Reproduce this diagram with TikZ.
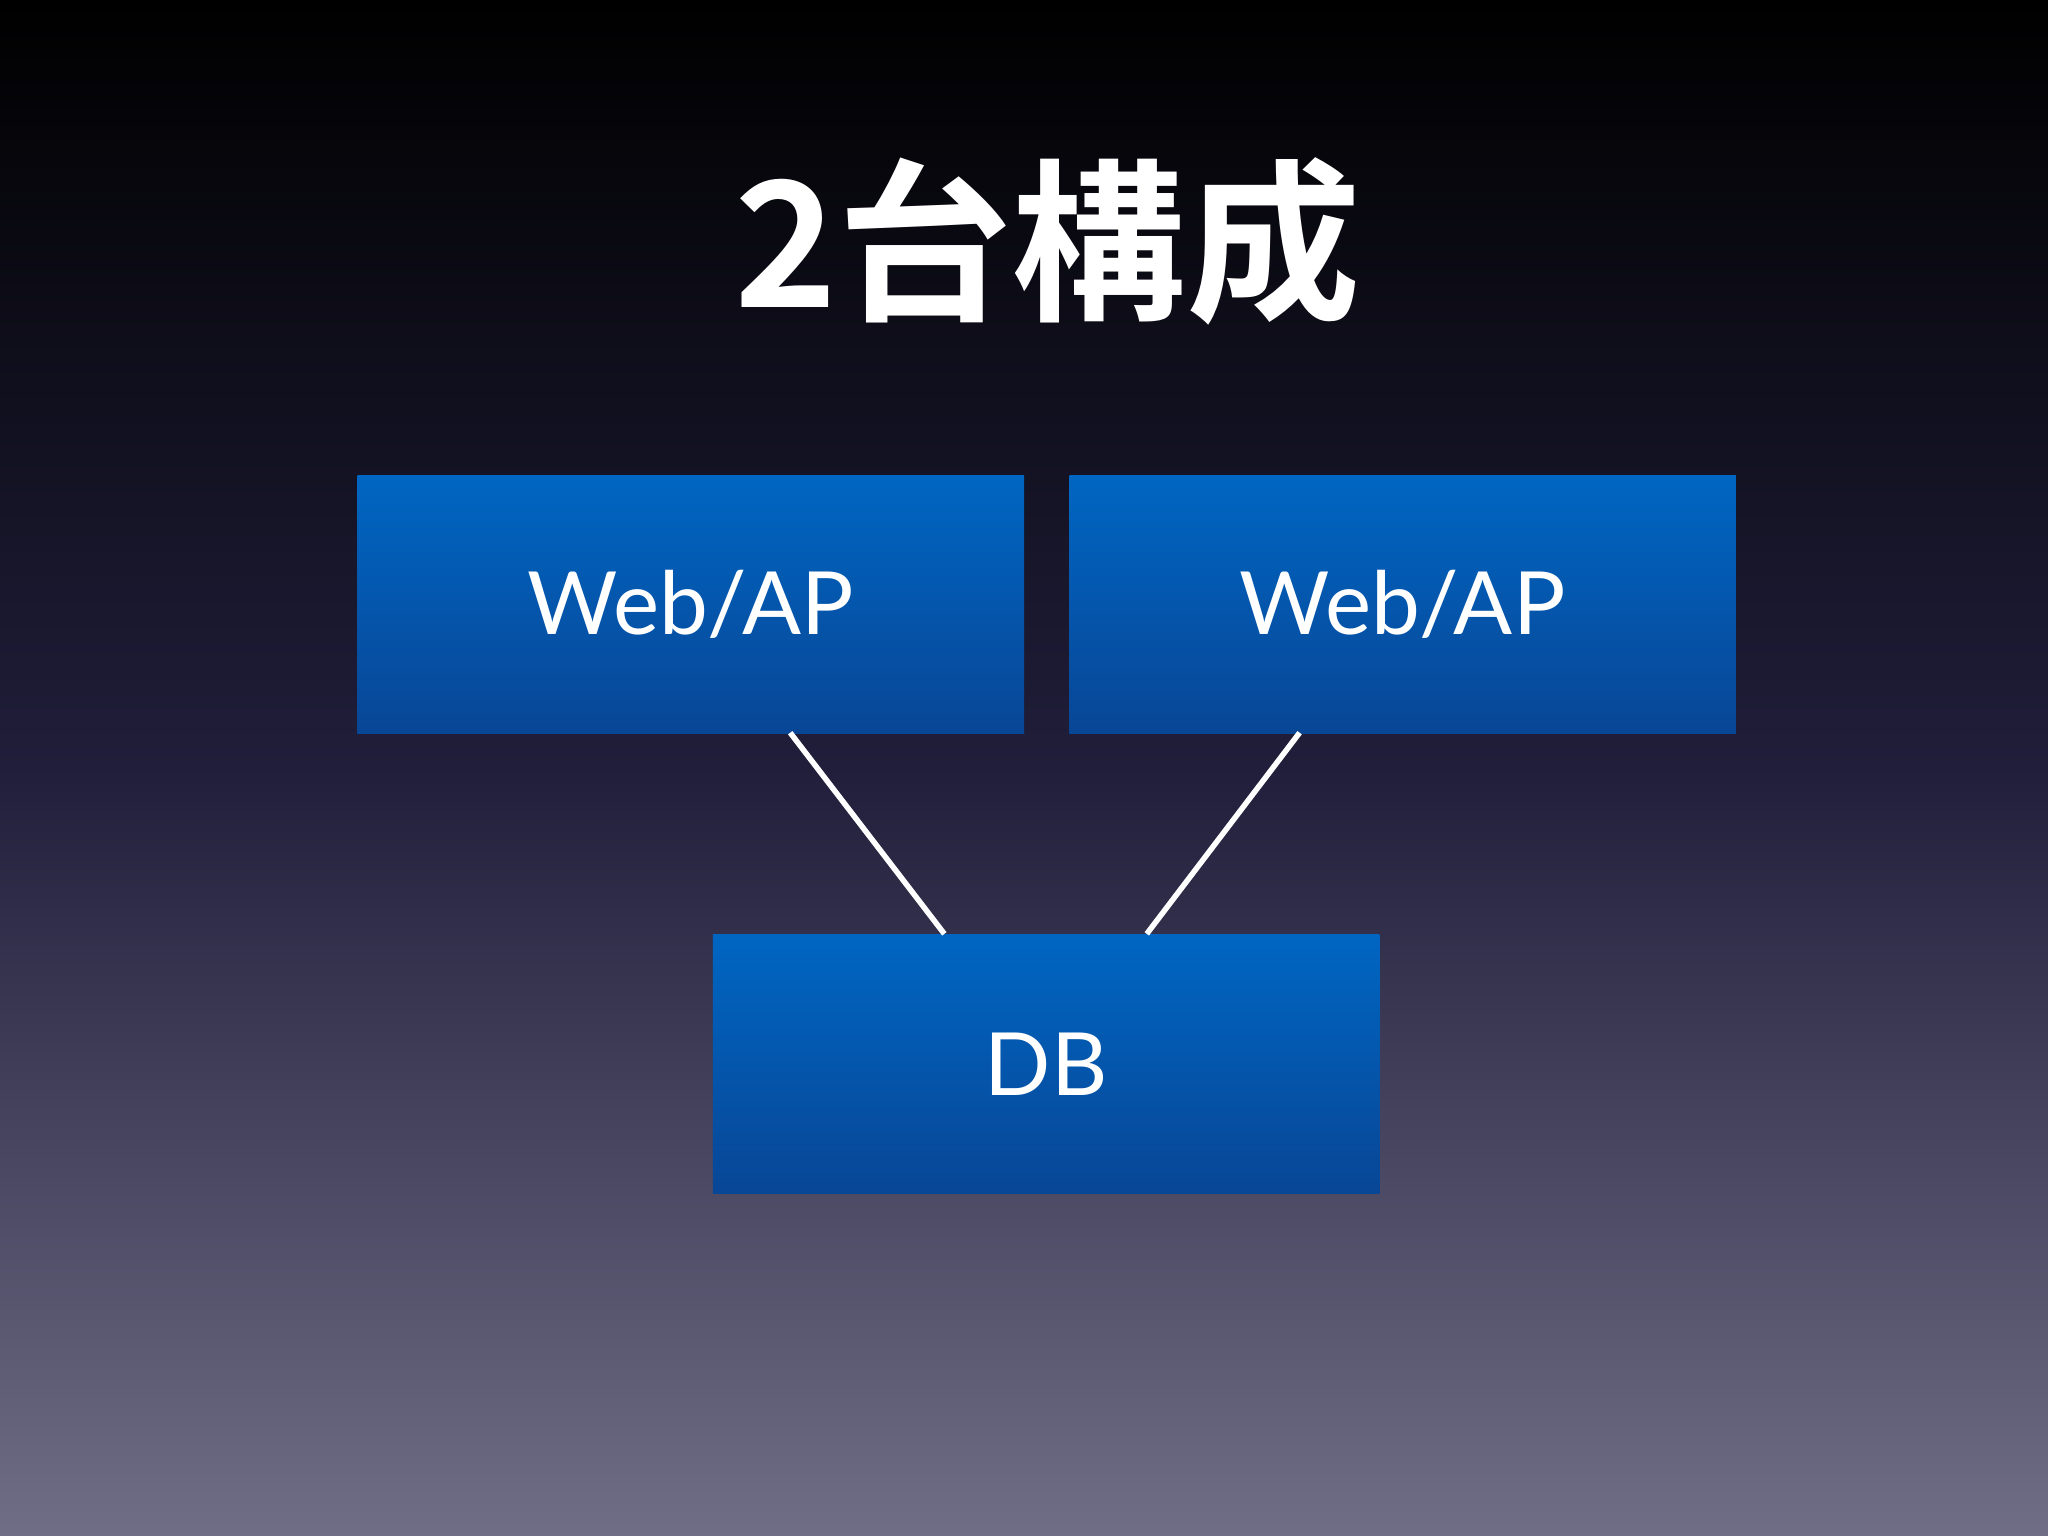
\documentclass[tikz,border=0pt]{standalone}
\usepackage{fontspec}
\setmainfont{Lato}
\newfontfamily\cjk{Noto Sans CJK JP}[BoldFont={* Bold}]
\begin{document}
\begin{tikzpicture}[x=0.01cm,y=-0.01cm,
  srv/.style={minimum width=5.1cm,minimum height=1.98cm,anchor=north west,inner sep=0pt,
    top color={rgb,255:red,0;green,102;blue,194},bottom color={rgb,255:red,8;green,70;blue,150},
    text=white,font=\fontsize{19}{23}\selectfont},
  link/.style={draw=white,line width=1.2pt}]
\shade[top color=black,bottom color={rgb,255:red,112;green,110;blue,134},middle color={rgb,255:red,32;green,30;blue,58}] (0,0) rectangle (1568,1176);
\useasboundingbox (0,0) rectangle (1568,1176);
\node[text=white,font=\cjk\bfseries\fontsize{38}{42}\selectfont] (t) at (802,185) {2台構成};
\node[srv] (w1) at (273,363) {Web/AP};
\node[srv] (w2) at (818,363) {Web/AP};
\node[srv] (db) at (545,715) {DB};
\coordinate (a1) at (605,561); \coordinate (a2) at (723,715);
\coordinate (b1) at (995,561); \coordinate (b2) at (878,715);
\draw[link] (a1) -- (a2);
\draw[link] (b1) -- (b2);
\end{tikzpicture}
\end{document}
